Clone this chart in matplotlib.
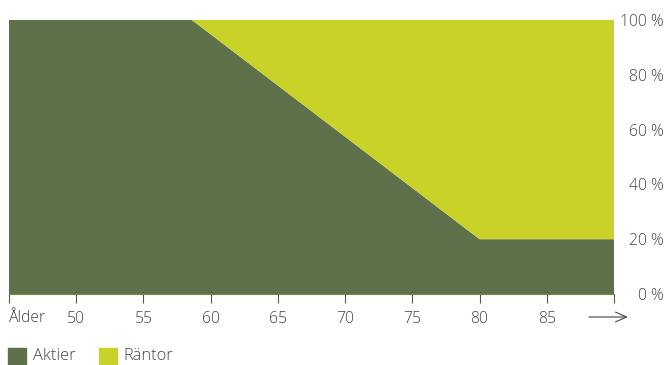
import matplotlib.pyplot as plt
from matplotlib.patches import Rectangle

# Andel aktier / räntor per ålder
ages = [45, 58.6, 80, 90]
aktier = [100, 100, 20, 20]
rantor = [0, 0, 80, 80]

xticks = [45, 50, 55, 60, 65, 70, 75, 80, 85, 90]
xlabels = ['', '50', '55', '60', '65', '70', '75', '80', '85', '']
yticks = [0, 20, 40, 60, 80, 100]
ylabels = ['0 %', '20 %', '40 %', '60 %', '80 %', '100 %']

green = '#5E714A'
yellow = '#C9D228'
text_col = '#444444'

plt.rcParams['font.family'] = ['Open Sans', 'DejaVu Sans']
plt.rcParams['font.weight'] = 'light'

fig = plt.figure(figsize=(6.66, 3.65), dpi=100)
ax = fig.add_axes([9 / 666, 71 / 365, 605 / 666, 274 / 365])

ax.stackplot(ages, aktier, rantor, colors=[green, yellow], linewidth=0)
ax.set_xlim(45, 90)
ax.set_ylim(0, 100)

for s in ['top', 'left', 'right']:
    ax.spines[s].set_visible(False)
ax.spines['bottom'].set_color('#7d8a3a')
ax.spines['bottom'].set_linewidth(0.8)

ax.set_xticks(xticks)
ax.set_xticklabels(xlabels, fontsize=11.3, color=text_col)
ax.tick_params(axis='x', length=6.5, width=0.8, color='#555555', pad=6)

ax.yaxis.tick_right()
ax.set_yticks(yticks)
ax.set_yticklabels(ylabels, fontsize=11.3, color=text_col, ha='right')
ax.tick_params(axis='y', length=0, pad=35.5)

# "Ålder" and arrow under the axis
fig.text(9 / 666, 43 / 365, 'Ålder', ha='left', va='baseline',
         fontsize=11.3, color=text_col)
ax.annotate('', xy=(628 / 666, 48 / 365), xytext=(589 / 666, 48 / 365),
            xycoords='figure fraction',
            arrowprops=dict(arrowstyle='->,head_length=0.57,head_width=0.25',
                            color=text_col, lw=0.8, mutation_scale=14,
                            shrinkA=0, shrinkB=0))

# legend
fig.patches.append(Rectangle((8 / 666, 0), 18 / 666, 17 / 365,
                             transform=fig.transFigure, color=green))
fig.text(33 / 666, 9 / 365, 'Aktier', fontsize=11.8, color=text_col, va='center')
fig.patches.append(Rectangle((99 / 666, 0), 18 / 666, 17 / 365,
                             transform=fig.transFigure, color=yellow))
fig.text(123 / 666, 9 / 365, 'Räntor', fontsize=11.8, color=text_col, va='center')

fig.savefig('out.png', dpi=100)
